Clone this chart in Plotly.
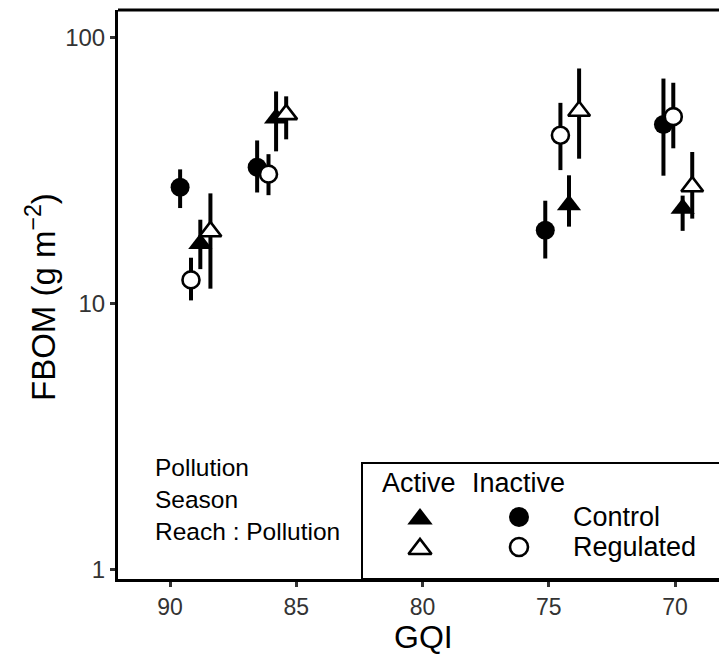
import plotly.graph_objects as go

# ---- data ----
series_names = ["Control Inactive", "Control Active", "Regulated Inactive", "Regulated Active"]
gqi_ctrl_inact = [89.6, 86.55, 75.14, 70.46]
fbom_ctrl_inact = [27.4, 32.6, 18.9, 47.2]
lo_ctrl_inact = [22.9, 26.2, 14.8, 30.3]
hi_ctrl_inact = [32.0, 41.1, 24.4, 70.2]

gqi_ctrl_act = [88.8, 85.8, 74.2, 69.7]
fbom_ctrl_act = [16.8, 49.8, 23.5, 22.8]
lo_ctrl_act = [13.5, 37.4, 19.5, 18.8]
hi_ctrl_act = [20.7, 62.8, 30.4, 25.5]

gqi_reg_inact = [89.17, 86.1, 74.54, 70.07]
fbom_reg_inact = [12.3, 30.7, 43.0, 50.5]
lo_reg_inact = [10.3, 25.6, 31.8, 38.4]
hi_reg_inact = [14.9, 36.5, 56.9, 67.7]

gqi_reg_act = [88.4, 85.4, 73.8, 69.32]
fbom_reg_act = [18.7, 51.5, 53.0, 27.6]
lo_reg_act = [11.4, 41.5, 35.1, 20.9]
hi_reg_act = [26.0, 60.2, 76.6, 37.2]

x_ticks = [90, 85, 80, 75, 70]
y_ticks = [1, 10, 100]
y_ticklabels = ["1", "10", "100"]
note_lines = ["Pollution", "Season", "Reach : Pollution"]

FONT = "Liberation Sans, Arial, sans-serif"

# plot-area pixel frame (used to place text in paper coordinates)
L, R, T, B = 118, 719, 10, 579
def px(x):
    return (x - L) / (R - L)
def py(y):
    return (B - y) / (B - T)

fig = go.Figure()

groups = [
    (gqi_ctrl_inact, fbom_ctrl_inact, lo_ctrl_inact, hi_ctrl_inact, "circle", "black", 19, 0),
    (gqi_ctrl_act, fbom_ctrl_act, lo_ctrl_act, hi_ctrl_act, "triangle-up", "black", 21, 0),
    (gqi_reg_inact, fbom_reg_inact, lo_reg_inact, hi_reg_inact, "circle", "white", 17, 2.6),
    (gqi_reg_act, fbom_reg_act, lo_reg_act, hi_reg_act, "triangle-up", "white", 19, 2.6),
]

# error bars first
for gx, gy, glo, ghi, *_ in groups:
    ex, ey = [], []
    for xi, l, h in zip(gx, glo, ghi):
        ex += [xi, xi, None]
        ey += [l, h, None]
    fig.add_trace(go.Scatter(x=ex, y=ey, mode="lines",
                             line=dict(color="black", width=4),
                             hoverinfo="skip", showlegend=False))

# points
for name, (gx, gy, glo, ghi, sym, fill, size, lw) in zip(series_names, groups):
    fig.add_trace(go.Scatter(x=gx, y=gy, mode="markers", name=name,
                             marker=dict(symbol=sym, color=fill, size=size,
                                         line=dict(color="black", width=lw)),
                             showlegend=False))

# legend glyphs on pixel overlay axes
leg_syms = [("triangle-up", "black", 22, 0, 420, 519),
            ("circle", "black", 20, 0, 519, 517),
            ("triangle-up", "white", 20, 2.6, 420, 549),
            ("circle", "white", 18, 2.6, 519, 547)]
for sym, fill, size, lw, gx_, gy_ in leg_syms:
    fig.add_trace(go.Scatter(x=[gx_], y=[gy_], xaxis="x2", yaxis="y2", mode="markers",
                             marker=dict(symbol=sym, color=fill, size=size,
                                         line=dict(color="black", width=lw)),
                             hoverinfo="skip", showlegend=False))

annotations = []
def txt(s, x, y, size, xanchor="left", angle=0):
    annotations.append(dict(text=s, x=px(x), y=py(y), xref="paper", yref="paper",
                            showarrow=False, xanchor=xanchor, yanchor="middle",
                            textangle=angle,
                            font=dict(family=FONT, size=size, color="black")))

for i, line in enumerate(note_lines):
    txt(line, 153, 467 + 32 * i, 24.5)
txt("Active", 380, 483, 27)
txt("Inactive", 470, 483, 27)
txt("Control", 571, 517, 27)
txt("Regulated", 571, 547, 27)

# axis titles
txt("GQI", 423, 637, 32, xanchor="center")
txt("FBOM (g m<sup>−2</sup>)", 41, 297, 33, xanchor="center", angle=-90)

shapes = [
    dict(type="line", xref="paper", yref="paper", x0=0, x1=1, y0=1, y1=1,
         line=dict(color="black", width=3)),
    dict(type="rect", xref="x2", yref="y2", x0=362, x1=760, y0=463, y1=579,
         line=dict(color="black", width=2), fillcolor="rgba(0,0,0,0)"),
]

fig.update_layout(
    width=719, height=655,
    margin=dict(l=L, r=719 - R, t=T, b=655 - B),
    plot_bgcolor="white", paper_bgcolor="white",
    font=dict(family=FONT, color="#333"),
    xaxis=dict(range=[92.06, 68.26], tickvals=x_ticks, ticks="outside", ticklen=5,
               tickwidth=3, tickcolor="#333", showgrid=False, zeroline=False,
               showline=True, linecolor="black", linewidth=3,
               tickfont=dict(family=FONT, size=23, color="#333")),
    yaxis=dict(type="log", range=[-0.034, 2.104], tickvals=y_ticks, ticktext=y_ticklabels,
               ticks="outside", ticklen=5, tickwidth=3, tickcolor="#333",
               showgrid=False, zeroline=False, showline=True, linecolor="black",
               linewidth=3, tickfont=dict(family=FONT, size=24, color="#333")),
    xaxis2=dict(overlaying="x", range=[L, R], visible=False, anchor="y2"),
    yaxis2=dict(overlaying="y", range=[B, T], visible=False, anchor="x2"),
    annotations=annotations,
    shapes=shapes,
    showlegend=False,
)

fig.write_html("out.html")
